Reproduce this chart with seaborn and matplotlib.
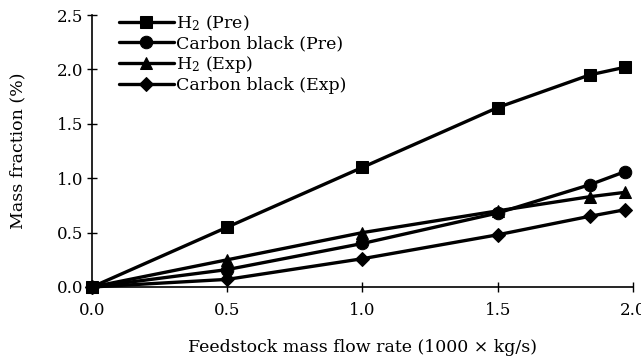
import matplotlib
matplotlib.use("Agg")
import matplotlib.pyplot as plt
import seaborn as sns
import pandas as pd

# Data
flow = [0.0, 0.5, 1.0, 1.5, 1.84, 1.97]
h2_pre = [0.0, 0.55, 1.10, 1.65, 1.95, 2.02]
cb_pre = [0.0, 0.16, 0.40, 0.68, 0.94, 1.06]
h2_exp = [0.0, 0.25, 0.50, 0.70, 0.83, 0.87]
cb_exp = [0.0, 0.07, 0.26, 0.48, 0.65, 0.71]
labels = [r"H$_2$ (Pre)", "Carbon black (Pre)", r"H$_2$ (Exp)", "Carbon black (Exp)"]
xticks = [0.0, 0.5, 1.0, 1.5, 2.0]
yticks = [0.0, 0.5, 1.0, 1.5, 2.0, 2.5]

sns.set_style("ticks")
plt.rcParams["font.family"] = ["DejaVu Serif"]
plt.rcParams["mathtext.fontset"] = "dejavuserif"
plt.rcParams["text.color"] = "black"
plt.rcParams["axes.labelcolor"] = "black"
plt.rcParams["xtick.color"] = "black"
plt.rcParams["ytick.color"] = "black"

fig = plt.figure(figsize=(6.41, 3.59), dpi=100)
ax = fig.add_axes([0.1435, 0.2006, 0.8440, 0.7574])

series = [h2_pre, cb_pre, h2_exp, cb_exp]
markers = ["s", "o", "^", "D"]
msizes = [9, 9, 9, 7]
for vals, lab, mk, ms in zip(series, labels, markers, msizes):
    df = pd.DataFrame({"x": flow, "y": vals})
    sns.lineplot(data=df, x="x", y="y", ax=ax, color="black", linewidth=2.4,
                 marker=mk, markersize=ms, markeredgecolor="black",
                 markerfacecolor="black", label=lab, clip_on=False)

ax.set_xlim(0, 2.0)
ax.set_ylim(0, 2.5)
ax.set_xticks(xticks)
ax.set_yticks(yticks)
ax.set_xticklabels([f"{t:.1f}" for t in xticks])
ax.set_yticklabels([f"{t:.1f}" for t in yticks])
ax.tick_params(direction="inout", length=7, width=1, labelsize=12, colors="black")
ax.tick_params(axis="x", pad=7)
ax.tick_params(axis="y", pad=3)
for s in ["top", "right"]:
    ax.spines[s].set_visible(False)
for s in ["left", "bottom"]:
    ax.spines[s].set_linewidth(1.2)
    ax.spines[s].set_color("black")

ax.set_xlabel(u"Feedstock mass flow rate (1000 \u00d7 kg/s)", fontsize=12.5, labelpad=15)
ax.set_ylabel("Mass fraction (%)", fontsize=12.5, labelpad=22)

leg = ax.legend(loc="upper left", bbox_to_anchor=(0.05, 1.005), frameon=False,
                fontsize=12.5, handlelength=3.15, handletextpad=0.15,
                labelspacing=0.12, borderaxespad=0, borderpad=0)
for t in leg.get_texts():
    t.set_color("black")

fig.savefig("out.png", dpi=100)
